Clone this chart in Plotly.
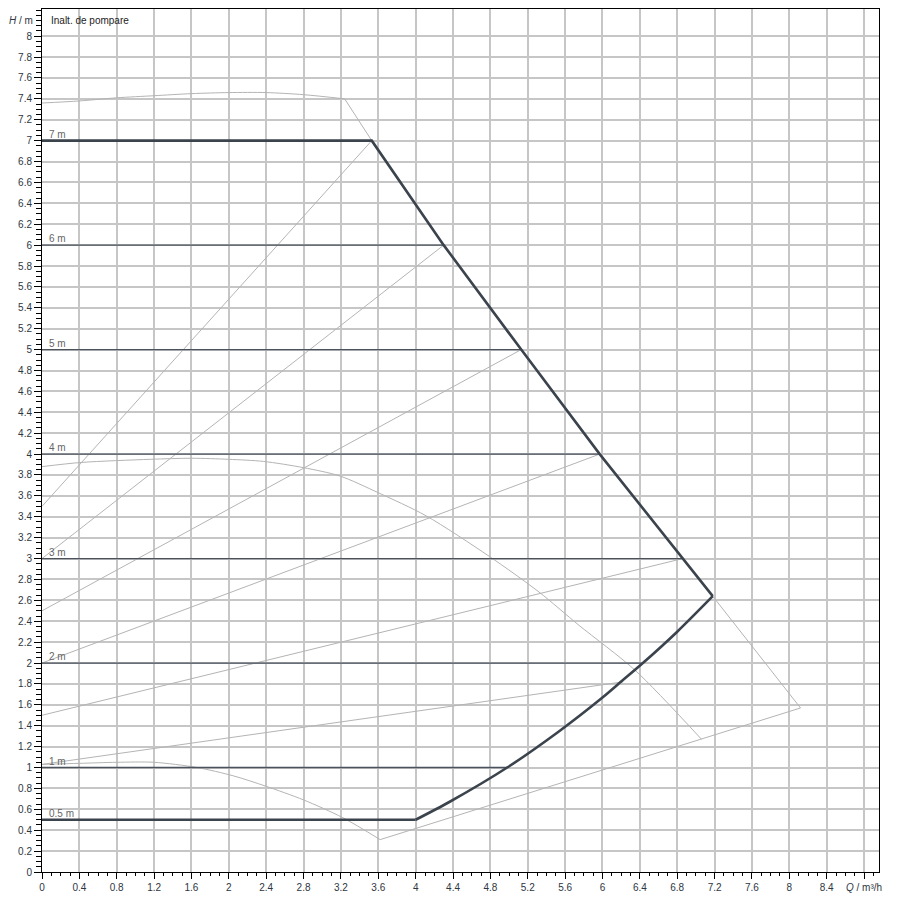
import plotly.graph_objects as go

# operating field boundary (thick line): 7 m line and max line
top_q = [0, 3.53, 4.30, 5.13, 5.97, 6.86, 7.18]
top_h = [7.0, 7.0, 6.0, 5.0, 4.0, 3.0, 2.64]
# lower boundary (min speed side) down to the 0.5 m line
low_q = [7.18, 6.80, 6.42, 6.21, 6.00, 5.54, 4.98, 4.36, 4.00]
low_h = [2.64, 2.30, 1.99, 1.83, 1.67, 1.35, 1.0, 0.67, 0.5]
base_q = [4.00, 0]
base_h = [0.5, 0.5]

# gray max speed curve
max_q = [0, 0.4, 0.8, 1.2, 1.6, 2.0, 2.4, 2.8, 3.24]
max_h = [7.36, 7.38, 7.41, 7.43, 7.45, 7.46, 7.46, 7.44, 7.40]
# gray limit lines between max and min speed curves
lim_q = [3.24, 3.53, 4.30, 5.13, 5.97, 6.86, 7.18, 8.12, 3.62]
lim_h = [7.40, 7.0, 6.0, 5.0, 4.0, 3.0, 2.64, 1.57, 0.31]
# gray min speed curve
min_q = [3.62, 3.22, 2.8, 2.4, 2.05, 1.66, 1.2, 0.8, 0.4, 0]
min_h = [0.31, 0.52, 0.69, 0.82, 0.92, 1.0, 1.05, 1.05, 1.04, 1.03]

# gray intermediate speed curve
mid_q = [0, 0.42, 1.16, 1.6, 2.0, 2.37, 2.8, 3.19, 3.6, 4.11, 4.79, 5.32, 5.75, 6.35, 7.06]
mid_h = [3.88, 3.92, 3.95, 3.96, 3.95, 3.93, 3.87, 3.79, 3.63, 3.41, 3.02, 2.68, 2.36, 1.93, 1.27]

# gray setpoint lines (start at Q=0, end on the field boundary)
sys_start_h = [3.5, 3.0, 2.5, 2.0, 1.5, 1.03]
sys_end_q = [3.53, 4.30, 5.13, 5.97, 6.86, 6.22]
sys_end_h = [7.0, 6.0, 5.0, 4.0, 3.0, 1.82]

# constant head lines
head_h = [6, 5, 4, 3, 2, 1]
head_end_q = [4.30, 5.13, 5.97, 6.86, 6.42, 4.98]
head_labels = ["7 m", "6 m", "5 m", "4 m", "3 m", "2 m", "1 m", "0.5 m"]
head_label_h = [7, 6, 5, 4, 3, 2, 1, 0.5]

x_tick_vals = [0, 0.4, 0.8, 1.2, 1.6, 2, 2.4, 2.8, 3.2, 3.6, 4, 4.4, 4.8, 5.2, 5.6, 6,
               6.4, 6.8, 7.2, 7.6, 8, 8.4, 8.8]
x_tick_text = ["0", "0.4", "0.8", "1.2", "1.6", "2", "2.4", "2.8", "3.2", "3.6", "4", "4.4",
               "4.8", "5.2", "5.6", "6", "6.4", "6.8", "7.2", "7.6", "8", "8.4", "<i>Q</i> / m³/h"]
y_tick_vals = [round(0.2 * i, 1) for i in range(41)]
y_tick_text = ["%g" % v for v in y_tick_vals]

gray = "#b4b4b4"
dark = "#3b434d"
tick_color = "#2e3642"

fig = go.Figure()

fig.add_trace(go.Scatter(x=max_q, y=max_h, mode="lines",
                         line=dict(color=gray, width=1, shape="spline", smoothing=0.8),
                         hoverinfo="skip"))
fig.add_trace(go.Scatter(x=lim_q, y=lim_h, mode="lines",
                         line=dict(color=gray, width=1), hoverinfo="skip"))
fig.add_trace(go.Scatter(x=min_q, y=min_h, mode="lines",
                         line=dict(color=gray, width=1, shape="spline", smoothing=0.8),
                         hoverinfo="skip"))
fig.add_trace(go.Scatter(x=mid_q, y=mid_h, mode="lines",
                         line=dict(color=gray, width=1, shape="spline", smoothing=0.8),
                         hoverinfo="skip"))

for h0, q1, h1 in zip(sys_start_h, sys_end_q, sys_end_h):
    fig.add_trace(go.Scatter(x=[0, q1], y=[h0, h1], mode="lines",
                             line=dict(color=gray, width=1), hoverinfo="skip"))

for h, q1 in zip(head_h, head_end_q):
    fig.add_trace(go.Scatter(x=[0, q1], y=[h, h], mode="lines",
                             line=dict(color="#4a525c", width=1.3), hoverinfo="skip"))

fig.add_trace(go.Scatter(x=top_q, y=top_h, mode="lines",
                         line=dict(color=dark, width=2.6), hoverinfo="skip"))
fig.add_trace(go.Scatter(x=low_q, y=low_h, mode="lines",
                         line=dict(color=dark, width=2.6, shape="spline", smoothing=0.8),
                         hoverinfo="skip"))
fig.add_trace(go.Scatter(x=base_q, y=base_h, mode="lines",
                         line=dict(color=dark, width=2.6), hoverinfo="skip"))

for txt, h in zip(head_labels, head_label_h):
    fig.add_annotation(x=0.05, y=h, text=txt, showarrow=False, xanchor="left",
                       yanchor="bottom", yshift=-1,
                       font=dict(family="Liberation Sans, Arial", size=10, color="#666"))

fig.add_annotation(x=0.07, y=8.15, text="Inalt. de pompare", showarrow=False,
                   xanchor="left", yanchor="middle",
                   font=dict(family="Liberation Sans, Arial", size=10, color="#222"))
fig.add_annotation(xref="paper", x=0, y=8.15, text="<i>H</i> / m", showarrow=False,
                   xanchor="right", yanchor="middle", xshift=-7,
                   font=dict(family="Liberation Sans, Arial", size=10, color=tick_color))

fig.update_layout(
    width=900, height=900,
    margin=dict(l=34, r=29, t=1, b=36),
    plot_bgcolor="white", paper_bgcolor="white",
    showlegend=False,
    font=dict(family="Liberation Sans, Arial", size=10, color=tick_color),
)

fig.update_xaxes(
    range=[0, 8.96], tickmode="array", tickvals=x_tick_vals, ticktext=x_tick_text,
    showgrid=True, gridcolor="#c6c6c6", gridwidth=1.5, zeroline=False,
    showline=True, linecolor="black", linewidth=1, mirror=True,
    ticks="outside", ticklen=6, tickcolor="black", tickfont=dict(size=10, color=tick_color),
    minor=dict(tickmode="linear", tick0=0, dtick=0.1, ticks="outside", ticklen=3,
               tickcolor="black", showgrid=False),
)
fig.update_yaxes(
    range=[0, 8.26], tickmode="array", tickvals=y_tick_vals, ticktext=y_tick_text,
    showgrid=True, gridcolor="#c6c6c6", gridwidth=1.5, zeroline=False,
    showline=True, linecolor="black", linewidth=1, mirror=True,
    ticks="outside", ticklen=7, tickcolor="black", tickfont=dict(size=10, color=tick_color),
    minor=dict(tickmode="linear", tick0=0, dtick=0.05, ticks="outside", ticklen=5,
               tickcolor="black", showgrid=False),
)

fig.write_html("out.html")
